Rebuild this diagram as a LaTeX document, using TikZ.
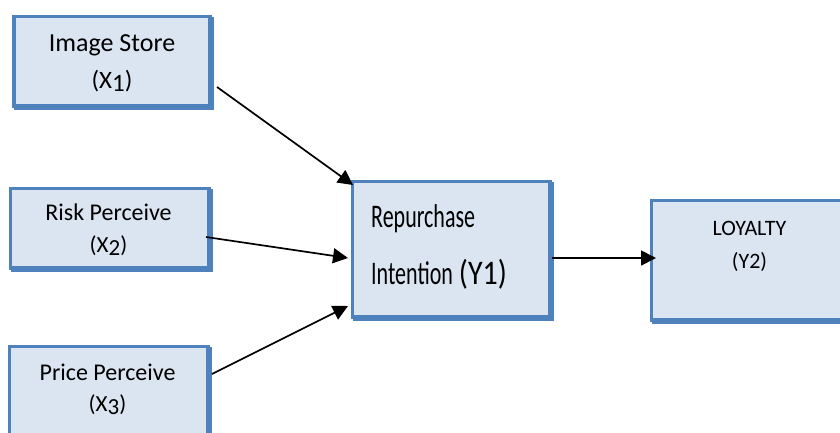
\documentclass[tikz,border=0pt]{standalone}
\usepackage{fontspec}
\setmainfont{Carlito}
\usetikzlibrary{arrows.meta}
\definecolor{boxblue}{HTML}{4F81BD}
\definecolor{boxfill}{HTML}{DBE5F1}
\newcommand{\fs}[1]{\fontsize{#1}{#1}\selectfont}
\newcommand{\lowd}[1]{\raisebox{-3pt}{#1}}
\begin{document}
\begin{tikzpicture}[x=1pt,y=-1pt,
  varbox/.style={draw=boxblue, line width=3.5pt, fill=boxfill, inner sep=0pt,
    preaction={draw=boxblue, line width=3.5pt, transform canvas={shift={(2pt,-2pt)}}}},
  lbl/.style={anchor=base, inner sep=0pt, text=black},
  link/.style={line width=1.7pt, -{Triangle[length=15pt,width=15pt]}}]
\useasboundingbox (0,0) rectangle (840,432);
\clip (0,0) rectangle (840,432);
\node[varbox, minimum width=196pt, minimum height=89.5pt] (b1) at (112,61.25) {};
\node[varbox, minimum width=198.5pt, minimum height=79.5pt] (b2) at (109.75,228.25) {};
\node[varbox, minimum width=198.5pt, minimum height=113pt] (b3) at (108.75,403) {};
\node[varbox, minimum width=197.5pt, minimum height=135.5pt] (y1) at (451.25,249.25) {};
\node[varbox, minimum width=208.5pt, minimum height=119.5pt] (y2) at (755.75,260.25) {};
% texts
\node[lbl] (t1a) at (112,51) {\fs{26}Image Store};
\node[lbl] (t1b) at (112,88) {\fs{25}(X\lowd{1})};
\node[lbl] (t2a) at (108.5,220) {\fs{24}Risk Perceive};
\node[lbl] (t2b) at (108.5,252) {\fs{23}(X\lowd{2})};
\node[lbl] (t3a) at (107.5,380) {\fs{24}Price Perceive};
\node[lbl] (t3b) at (107.5,411) {\fs{23}(X\lowd{3})};
\node[lbl, anchor=base west] (t4a) at (371,227) {\scalebox{1}[1.5]{\fs{22}Repurchase}};
\node[lbl, anchor=base west] (t4b) at (371,284) {\scalebox{1}[1.5]{\fs{22}Intention }\hspace{1pt}\scalebox{1}[1.15]{\fs{30}(Y1)}};
\node[lbl] (t5a) at (749.5,235) {\fs{22}LOYALTY};
\node[lbl] (t5b) at (749.5,268) {\fs{22}(Y2)};
% connector ends
\coordinate (s1) at (217,87);
\coordinate (e1) at (353,185);
\coordinate (s2) at (206,237);
\coordinate (e2) at (348,258);
\coordinate (s3) at (212,374);
\coordinate (e3) at (348,306);
\coordinate (s4) at (y1.east);
\coordinate (e4) at (656,258);
\draw[link] (s1) -- (e1);
\draw[link] (s2) -- (e2);
\draw[link] (s3) -- (e3);
\draw[link] (s4 |- e4) -- (e4);
\end{tikzpicture}
\end{document}
